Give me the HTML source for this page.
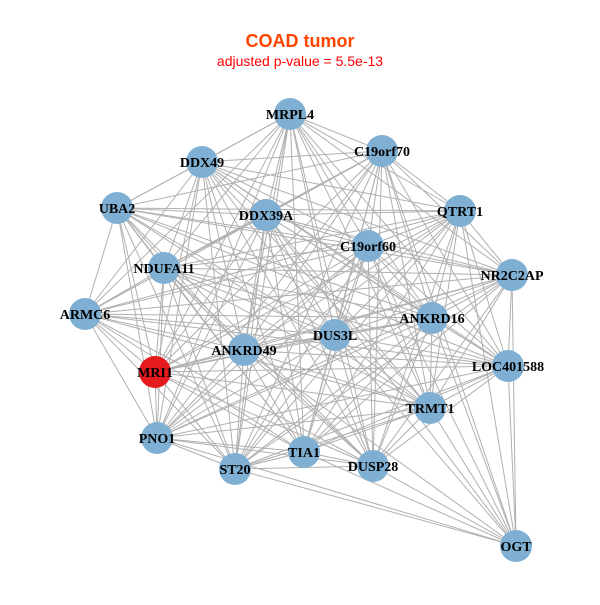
<!DOCTYPE html>
<html><head><meta charset="utf-8"><style>
body{margin:0;background:#fff;width:600px;height:600px;overflow:hidden}
</style></head><body>
<svg id="s" width="600" height="600" xmlns="http://www.w3.org/2000/svg">
<text x="300" y="47" text-anchor="middle" font-family="Liberation Sans, sans-serif" font-weight="bold" font-size="18" fill="#ff4500">COAD tumor</text>
<text x="300" y="66" text-anchor="middle" font-family="Liberation Sans, sans-serif" font-size="14" fill="#ff0000">adjusted p-value = 5.5e-13</text>
<g id="e" stroke="#b0b0b0" stroke-width="1"></g>
<g id="n"></g>
</svg>
<script>
var N=[["MRPL4",290,114],["C19orf70",382,151],["DDX49",202,162],["QTRT1",460,211],["UBA2",117,208],["DDX39A",266,215],["C19orf60",368,246],["NDUFA11",164,268],["NR2C2AP",512,275],["ARMC6",85,314],["ANKRD16",432,318],["DUS3L",335,335],["ANKRD49",244,350],["LOC401588",508,366],["MRI1",155,372],["TRMT1",430,408],["PNO1",157,438],["TIA1",304,452],["ST20",235,469],["DUSP28",373,466],["OGT",516,546]];
var skipOGT={"UBA2":1,"ARMC6":1,"DDX49":1,"MRPL4":1,"NDUFA11":1,"MRI1":1};
var ns="http://www.w3.org/2000/svg",e=document.getElementById("e"),g=document.getElementById("n");
for(var i=0;i<N.length;i++)for(var j=i+1;j<N.length;j++){
 if(N[j][0]=="OGT"&&skipOGT[N[i][0]])continue;
 var l=document.createElementNS(ns,"line");
 l.setAttribute("x1",N[i][1]);l.setAttribute("y1",N[i][2]);l.setAttribute("x2",N[j][1]);l.setAttribute("y2",N[j][2]);e.appendChild(l);}
N.forEach(function(d){
 var c=document.createElementNS(ns,"circle");c.setAttribute("cx",d[1]);c.setAttribute("cy",d[2]);c.setAttribute("r",16);
 c.setAttribute("fill",d[0]=="MRI1"?"#e41a1c":"#7fb0d4");g.appendChild(c);
 var t=document.createElementNS(ns,"text");t.setAttribute("x",d[1]);t.setAttribute("y",d[2]+5);t.setAttribute("text-anchor","middle");
 t.setAttribute("font-family","Liberation Serif, serif");t.setAttribute("font-weight","bold");t.setAttribute("font-size","14");t.textContent=d[0];g.appendChild(t);});
</script>
</body></html>
